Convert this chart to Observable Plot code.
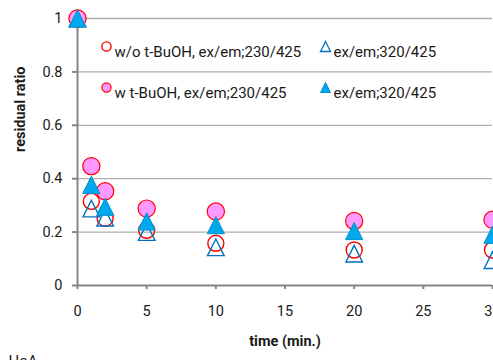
<!DOCTYPE html>
<html>
<head>
<meta charset="utf-8">
<script src="https://cdn.jsdelivr.net/npm/d3@7"></script>
<script src="https://cdn.jsdelivr.net/npm/@observablehq/plot@0.6"></script>
<style>
  html, body { margin: 0; padding: 0; background: #fff; overflow: hidden; }
</style>
</head>
<body>
<div id="chart"></div>
<script>
// ---- data ----
const times = [0, 1, 2, 5, 10, 20, 30];
const woBuOH_230 = [1, 0.315, 0.252, 0.207, 0.158, 0.133, 0.133];   // open red circles
const woBuOH_320 = [1, 0.288, 0.254, 0.200, 0.143, 0.119, 0.095];   // open blue triangles
const wBuOH_230  = [1, 0.447, 0.353, 0.288, 0.277, 0.242, 0.246];   // filled pink circles
const wBuOH_320  = [1, 0.377, 0.295, 0.240, 0.226, 0.204, 0.190];   // filled blue triangles

const xTicks = [0, 5, 10, 15, 20, 25, 30];
const yTicks = [0, 0.2, 0.4, 0.6, 0.8, 1];
const yTickLabels = ["0", "0.2", "0.4", "0.6", "0.8", "1"];

const legendLabels = [
  "w/o t-BuOH, ex/em;230/425",
  "ex/em;320/425",
  "w t-BuOH, ex/em;230/425",
  "ex/em;320/425"
];
const xTitle = "time (min.)";
const yTitle = "residual ratio";
const note = "HoA";

// ---- helpers ----
const rows = (ys) => times.map((t, i) => ({t, v: ys[i]}));
// Excel-like triangle: width == height, bounding-box centered
const tri = {
  draw(ctx, size) {
    const r = Math.sqrt(size / Math.PI);
    ctx.moveTo(0, -r);
    ctx.lineTo(r, r);
    ctx.lineTo(-r, r);
    ctx.closePath();
  }
};

const RED = "#FF0000", PINK = "#FF99FF", BLUE = "#00A8EC", DBLUE = "#0070C0";

const legendTop = 28, legendRow = 41, legendFont = 15;

const plot = Plot.plot({
  width: 493,
  height: 360,
  marginLeft: 77,
  marginRight: 1,
  marginTop: 18,
  marginBottom: 75,
  style: {fontFamily: "Roboto, 'Liberation Sans', sans-serif", fontSize: "14.5px", color: "#1a1a1a", background: "#fff"},
  x: {domain: [0, 30], ticks: xTicks},
  y: {domain: [0, 1], ticks: yTicks},
  marks: [
    Plot.ruleY(yTicks.filter(d => d > 0), {stroke: "#B0B0B0", strokeWidth: 1.3}),
    Plot.axisY({ticks: yTicks, tickSize: 5, tickPadding: 10, stroke: "#858585", strokeWidth: 2,
      tickFormat: (d) => yTickLabels[yTicks.indexOf(d)], label: null}),
    Plot.axisX({ticks: xTicks, tickSize: 4, tickPadding: 16, stroke: "#858585", strokeWidth: 2, label: null}),
    Plot.ruleX([0], {stroke: "#858585", strokeWidth: 2}),
    Plot.ruleY([0], {stroke: "#858585", strokeWidth: 2}),
    // data
    Plot.dot(rows(woBuOH_230), {x: "t", y: "v", r: 8, stroke: RED, strokeWidth: 1.4, fill: "none"}),
    Plot.dot(rows(woBuOH_320), {x: "t", y: "v", r: 8.3, symbol: tri, stroke: DBLUE, strokeWidth: 1.4, fill: "none"}),
    Plot.dot(rows(wBuOH_230), {x: "t", y: "v", r: 8.6, stroke: RED, strokeWidth: 1.2, fill: PINK}),
    Plot.dot(rows(wBuOH_320), {x: "t", y: "v", r: 8.6, symbol: tri, stroke: "#0090D0", strokeWidth: 1, fill: BLUE}),
    // legend
    Plot.dot([0], {frameAnchor: "top-left", dx: 29, dy: legendTop, r: 4.6, stroke: RED, strokeWidth: 1.4, fill: "#fff"}),
    Plot.text([legendLabels[0]], {frameAnchor: "top-left", dx: 37, dy: legendTop, textAnchor: "start", fontSize: legendFont}),
    Plot.dot([0], {frameAnchor: "top-left", dx: 248, dy: legendTop, r: 5, symbol: tri, stroke: DBLUE, strokeWidth: 1.3, fill: "#fff"}),
    Plot.text([legendLabels[1]], {frameAnchor: "top-left", dx: 256, dy: legendTop, textAnchor: "start", fontSize: legendFont}),
    Plot.dot([0], {frameAnchor: "top-left", dx: 29, dy: legendTop + legendRow, r: 4.6, stroke: RED, strokeWidth: 1.2, fill: PINK}),
    Plot.text([legendLabels[2]], {frameAnchor: "top-left", dx: 37, dy: legendTop + legendRow, textAnchor: "start", fontSize: legendFont}),
    Plot.dot([0], {frameAnchor: "top-left", dx: 248, dy: legendTop + legendRow, r: 5, symbol: tri, stroke: "#0090D0", strokeWidth: 1, fill: BLUE}),
    Plot.text([legendLabels[3]], {frameAnchor: "top-left", dx: 256, dy: legendTop + legendRow, textAnchor: "start", fontSize: legendFont}),
    // titles
    Plot.text([xTitle], {frameAnchor: "bottom", dy: 60, fontWeight: "bold", fontSize: 14.5}),
    Plot.text([yTitle], {frameAnchor: "left", dx: -57, rotate: -90, fontWeight: "bold", fontSize: 14.5}),
    Plot.text([note], {frameAnchor: "bottom-left", dx: -69, dy: 70, textAnchor: "start", lineAnchor: "top", fontSize: 15})
  ]
});
document.getElementById("chart").appendChild(plot);
</script>
</body>
</html>
